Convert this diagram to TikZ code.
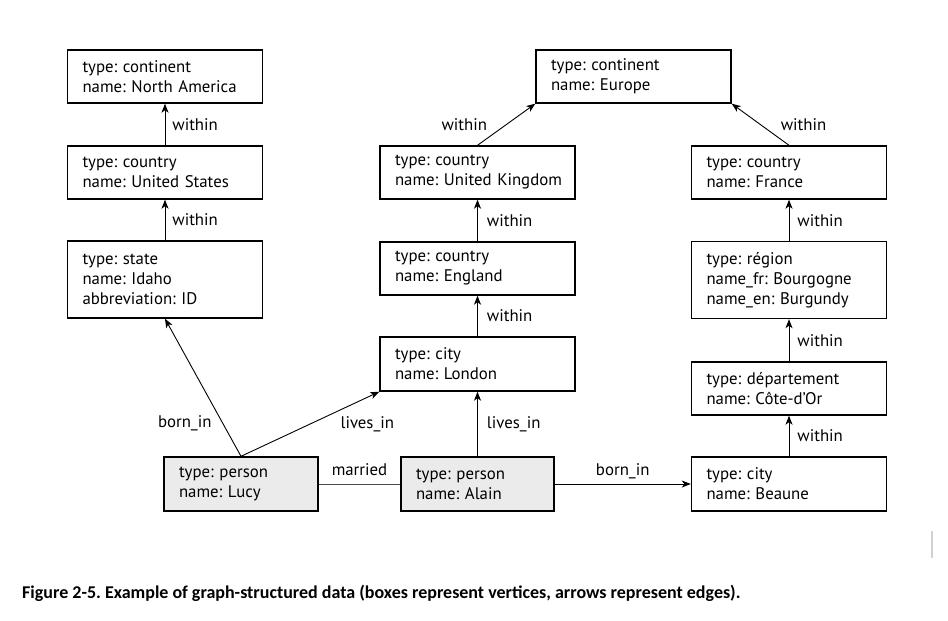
\documentclass[tikz,border=0pt]{standalone}
\usepackage{fontspec}
\setmainfont{PT Sans}
\newfontfamily\capfont{Carlito}
\usetikzlibrary{arrows.meta}
\frenchspacing
\hyphenpenalty=10000
\exhyphenpenalty=10000
\hbadness=10000
\hfuzz=50pt
\newcommand\vboxfont{\fontsize{16.8}{20}\selectfont}
\tikzset{
  vbox/.style={draw, line width=1.4pt, minimum width=195pt, text width=165pt,
    inner xsep=15pt, inner ysep=0pt, align=left, font=\vboxfont},
  pbox/.style={vbox, fill=black!8, minimum width=154pt, text width=124pt},
  edgearrow/.style={line width=0.9pt, -{Stealth[length=9pt,width=7pt,inset=2.5pt]}},
  plainline/.style={line width=0.9pt, black!70},
  lbl/.style={inner sep=0pt, font=\fontsize{16.8}{18}\selectfont}
}
\begin{document}
\begin{tikzpicture}[x=1pt,y=-1pt]
\useasboundingbox (0,0) rectangle (948,621);
% vertices
\node[vbox, minimum height=53pt] (NA) at (165,76.5) {type: continent\\name: North America};
\node[vbox, minimum height=53pt] (US) at (165,172.5) {type: country\\name: United States};
\node[vbox, minimum height=77pt] (Idaho) at (165,279.5) {type: state\\name: Idaho\\abbreviation: ID};
\node[vbox, minimum height=53pt] (Europe) at (633.5,76.5) {type: continent\\name: Europe};
\node[vbox, minimum height=53pt] (UK) at (477.5,172.5) {type: country\\name:~United~Kingdom};
\node[vbox, minimum height=53pt] (England) at (477.5,268.5) {type: country\\name: England};
\node[vbox, minimum height=54pt] (London) at (477.5,364) {type: city\\name: London};
\node[vbox, minimum height=53pt] (France) at (789,172.5) {type: country\\name: France};
\node[vbox, minimum height=77pt] (Region) at (789,280) {type: région\\name\_fr: Bourgogne\\name\_en: Burgundy};
\node[vbox, minimum height=53pt] (Dept) at (789,388.5) {type: département\\name: Côte-d’Or};
\node[vbox, minimum height=54pt] (Beaune) at (789,484) {type: city\\name: Beaune};
\node[pbox, minimum height=54pt] (Lucy) at (241,484) {type: person\\name: Lucy};
\node[pbox, minimum height=54pt, minimum width=153pt, text width=123pt] (Alain) at (477.5,484) {type: person\\name: Alain};
% edges
\draw[edgearrow] (US) -- (NA) node[lbl, midway, right=7pt] {within};
\draw[edgearrow] (Idaho) -- (US) node[lbl, midway, right=7pt] {within};
\draw[edgearrow] (UK.north) -- (Europe.south west) node[lbl, midway, left=19pt] {within};
\draw[edgearrow] (England) -- (UK) node[lbl, midway, right=9pt] {within};
\draw[edgearrow] (London) -- (England) node[lbl, midway, right=9pt] {within};
\draw[edgearrow] (France.north) -- (Europe.south east) node[lbl, midway, right=20pt] {within};
\draw[edgearrow] (Region) -- (France) node[lbl, midway, right=8pt] {within};
\draw[edgearrow] (Dept) -- (Region) node[lbl, midway, right=8pt] {within};
\draw[edgearrow] (Beaune) -- (Dept) node[lbl, midway, right=8pt] {within};
\draw[edgearrow] (Lucy.north) -- (Idaho.south) node[lbl, pos=0.237, left=11pt] {born\_in};
\draw[edgearrow] (Lucy.north) -- (London.south west) node[lbl, midway, right=30pt] {lives\_in};
\draw[edgearrow] (Alain) -- (London) node[lbl, midway, right=9pt] {lives\_in};
\draw[plainline] (Lucy) -- (Alain) node[lbl, black, midway, anchor=base, yshift=9pt] {married};
\draw[edgearrow] (Alain) -- (Beaune) node[lbl, midway, anchor=base, yshift=9pt] {born\_in};
% caption
\node[anchor=base west, inner sep=0pt, font=\capfont\bfseries\fontsize{18}{20}\selectfont] (cap) at (22,598)
  {Figure 2-5. Example of graph-structured data (boxes represent vertices, arrows represent edges).};
\fill[black!18] (931,531) rectangle (933,558);
\end{tikzpicture}
\end{document}
